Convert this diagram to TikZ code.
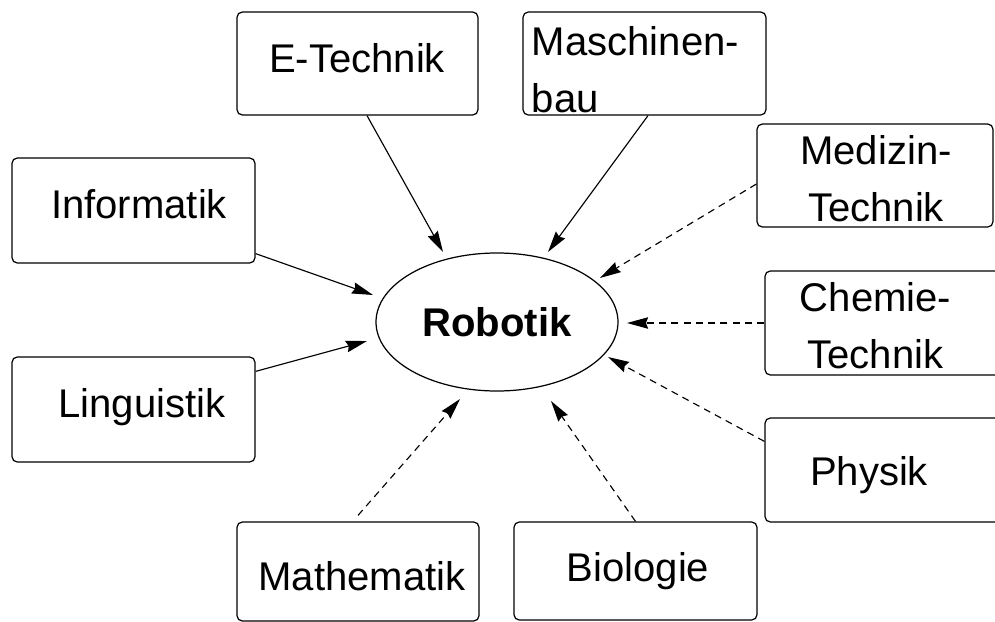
\documentclass[tikz,border=0pt]{standalone}
\usepackage{fontspec}
\setmainfont{Liberation Sans}
\usetikzlibrary{shapes.geometric,arrows.meta}
\begin{document}
\begin{tikzpicture}[x=0.02cm,y=-0.02cm,
  font=\fontsize{22.8}{32.4}\selectfont,
  box/.style 2 args={draw, rounded corners=3pt, line width=0.7pt,
    minimum width=#1*0.02cm, minimum height=#2*0.02cm, inner sep=0pt},
  lbl/.style={inner sep=0pt},
  link/.style={line width=0.65pt, -{Stealth[length=12pt,width=6.5pt,inset=1.2pt]}},
  soft/.style={link, dash pattern=on 4pt off 3pt}]
\useasboundingbox (0,0) rectangle (995,622);
\clip (0,0) rectangle (995,622);
% boxes
\node[box={241}{103}] (bE)   at (357.5,63.5) {};
\node[box={243}{103}] (bM)   at (644.5,63.5) {};
\node[box={236}{103}] (bMed) at (875,175.5) {};
\node[box={243}{105}] (bInf) at (133.5,210.5) {};
\node[box={238}{104}] (bChe) at (884,323) {};
\node[box={243}{105}] (bLin) at (133.5,409.5) {};
\node[box={238}{104}] (bPhy) at (884,470) {};
\node[box={242}{99}]  (bMat) at (358,571.5) {};
\node[box={243}{98}]  (bBio) at (635.5,571) {};
\node[draw, ellipse, line width=0.7pt, minimum width=242*0.02cm,
      minimum height=138*0.02cm, inner sep=0pt,
      font=\fontsize{22.8}{32.4}\selectfont\bfseries] (rob) at (497,322) {Robotik};
% texts
\node[lbl, anchor=base] (tE) at (357,72) {E-Technik};
\node[lbl, align=left] (tM) at (635.5,70) {Maschinen-\\bau};
\node[lbl, align=center] (tMed) at (876,179) {Medizin-\\Technik};
\node[lbl, anchor=base] (tInf) at (139,218) {Informatik};
\node[lbl, align=center] (tChe) at (875.5,325.5) {Chemie-\\Technik};
\node[lbl, anchor=base] (tLin) at (142,417) {Linguistik};
\node[lbl, anchor=base] (tPhy) at (869,485) {Physik};
\node[lbl, anchor=base] (tMat) at (362,590) {Mathematik};
\node[lbl, anchor=base] (tBio) at (638,581) {Biologie};
% arrow tips near the ellipse
\coordinate (pE)   at (443,252);
\coordinate (pM)   at (548,252);
\coordinate (pMed) at (600,278);
\coordinate (pInf) at (373,295);
\coordinate (pChe) at (627,323);
\coordinate (pLin) at (367,341);
\coordinate (pPhy) at (608,357);
\coordinate (pMat) at (460,399);
\coordinate (pBio) at (551,401);
% connectors
\draw[link] ([xshift=0.19cm]bE.south) -- (pE);
\draw[link] ([xshift=0.07cm]bM.south) -- (pM);
\draw[soft] ([yshift=-0.17cm]bMed.west) -- (pMed);
\draw[link] ([yshift=0.2cm]bInf.south east) -- (pInf);
\draw[soft] (bChe.west) -- (pChe);
\draw[link] ([yshift=-0.3cm]bLin.north east) -- (pLin);
\draw[soft] ([yshift=-0.48cm]bPhy.north west) -- (pPhy);
\draw[soft] ([yshift=0.12cm]bMat.north) -- (pMat);
\draw[soft] (bBio.north) -- (pBio);
\end{tikzpicture}
\end{document}
